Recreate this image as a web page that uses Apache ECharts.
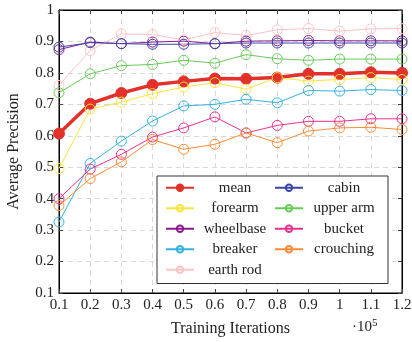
<!DOCTYPE html>
<html><head><meta charset="utf-8">
<script src="https://cdn.jsdelivr.net/npm/echarts@6/dist/echarts.min.js"></script>
<style>html,body{margin:0;padding:0;background:#fff}#c{width:412px;height:342px}</style>
</head><body><div id="c"></div>
<script>
const iterations = [0.1,0.2,0.3,0.4,0.5,0.6,0.7,0.8,0.9,1.0,1.1,1.2];
const mean      = [0.607,0.702,0.736,0.762,0.773,0.782,0.781,0.785,0.797,0.797,0.802,0.800];
const cabin     = [0.882,0.896,0.893,0.891,0.891,0.893,0.895,0.895,0.895,0.895,0.895,0.895];
const forearm   = [0.496,0.685,0.707,0.734,0.755,0.769,0.748,0.785,0.774,0.779,0.785,0.779];
const upperArm  = [0.737,0.797,0.823,0.827,0.840,0.831,0.858,0.845,0.840,0.844,0.844,0.844];
const wheelbase = [0.874,0.898,0.893,0.898,0.901,0.893,0.901,0.902,0.903,0.902,0.902,0.902];
const bucket    = [0.400,0.494,0.541,0.596,0.625,0.660,0.609,0.633,0.646,0.646,0.654,0.654];
const breaker   = [0.326,0.512,0.583,0.647,0.695,0.700,0.716,0.705,0.744,0.742,0.747,0.744];
const crouching = [0.378,0.464,0.517,0.588,0.557,0.573,0.609,0.578,0.615,0.625,0.627,0.620];
const earthRod  = [0.760,0.871,0.924,0.922,0.905,0.928,0.919,0.937,0.941,0.933,0.940,0.941];
const yTicks = ['0.1','0.2','0.3','0.4','0.5','0.6','0.7','0.8','0.9','1'];

const FONT = 'Liberation Serif';
const chart = echarts.init(document.getElementById('c'));
function mk(name, vals, color, opts) {
  opts = opts || {};
  const filled = !!opts.filled;
  return {
    name, type: 'line', data: iterations.map((x, i) => [x, vals[i]]),
    symbol: 'circle', symbolSize: opts.size || 10,
    lineStyle: { color, width: opts.width || 1 },
    itemStyle: { color: filled ? color : 'rgba(255,255,255,0)', borderColor: color, borderWidth: 1 },
    emphasis: { disabled: true }, animation: false
  };
}
const series = [
  mk('mean', mean, '#e2312b', { filled: true, width: 3.5, size: 11 }),
  mk('forearm', forearm, '#ffe23a'),
  mk('wheelbase', wheelbase, '#8a1b8c'),
  mk('breaker', breaker, '#33b2e2'),
  mk('earth rod', earthRod, '#ffc2c4'),
  mk('cabin', cabin, '#3c45a8'),
  mk('upper arm', upperArm, '#66cc55'),
  mk('bucket', bucket, '#e9318c'),
  mk('crouching', crouching, '#ff8a33')
];
const axisCommon = {
  axisLine: { lineStyle: { color: '#000', width: 1 } },
  axisTick: { inside: true, length: 4, lineStyle: { color: '#444' } }
};
chart.setOption({
  animation: false,
  grid: { left: 59, right: 10, top: 10, bottom: 49, show: true, borderColor: '#000', borderWidth: 1,
    containLabel: false, outerBoundsMode: 'none' },
  xAxis: [
    Object.assign({}, axisCommon, {
      type: 'value', min: 0.1, max: 1.2, interval: 0.1, position: 'bottom',
      axisLabel: { fontFamily: FONT, fontSize: 15, color: '#222', margin: 5,
        formatter: v => String(+v.toFixed(2)) },
      splitLine: { show: true, lineStyle: { type: [5, 4], color: '#d9d9d9' } },
      name: 'Training Iterations', nameLocation: 'middle', nameGap: 28,
      nameTextStyle: { fontFamily: FONT, fontSize: 16, color: '#222' }
    }),
    Object.assign({}, axisCommon, {
      type: 'value', min: 0.1, max: 1.2, interval: 0.1, position: 'top',
      axisLabel: { show: false }, splitLine: { show: false }
    })
  ],
  yAxis: [
    Object.assign({}, axisCommon, {
      type: 'value', min: 0.1, max: 1, interval: 0.1, position: 'left',
      axisLabel: { fontFamily: FONT, fontSize: 15, color: '#222', margin: 5,
        formatter: v => yTicks[Math.round(v * 10) - 1] },
      splitLine: { show: true, lineStyle: { type: [5, 4], color: '#d9d9d9' } },
      name: 'Average Precision', nameLocation: 'middle', nameGap: 37,
      nameTextStyle: { fontFamily: FONT, fontSize: 16, color: '#222' }
    }),
    Object.assign({}, axisCommon, {
      type: 'value', min: 0.1, max: 1, interval: 0.1, position: 'right',
      axisLabel: { show: false }, splitLine: { show: false }
    })
  ],
  legend: {
    orient: 'vertical', left: 157, top: 176, height: 100,
    padding: [3, 8, 5, 8], itemGap: 3, itemWidth: 28, itemHeight: 8,
    backgroundColor: '#fff', borderColor: '#333', borderWidth: 1,
    data: ['mean','forearm','wheelbase','breaker','earth rod','cabin','upper arm','bucket','crouching'],
    formatter: '{t|{name}}',
    textStyle: { fontFamily: FONT, fontSize: 15, color: '#222', lineHeight: 17.5,
      rich: { t: { width: 72, height: 17.5, lineHeight: 17.5, align: 'center', fontFamily: FONT, fontSize: 15, color: '#222' } } }
  },
  graphic: [{
    type: 'text', left: 352, top: 318,
    style: { text: '·10{s|5}', fontFamily: FONT, fontSize: 15, fill: '#222',
      rich: { s: { fontFamily: FONT, fontSize: 11, verticalAlign: 'top', padding: [0, 0, 8, 0] } } }
  }],
  series
});
</script></body></html>
